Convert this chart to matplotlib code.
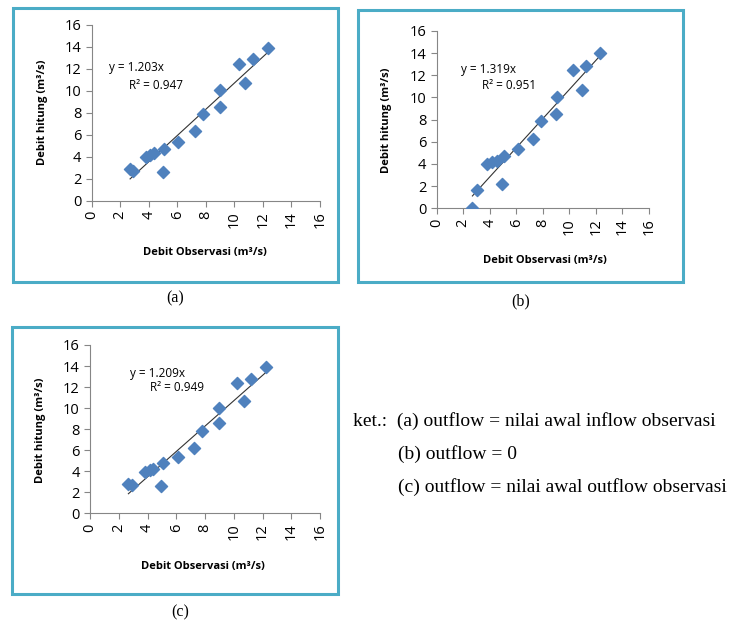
import numpy as np
import matplotlib.pyplot as plt
from matplotlib.patches import Rectangle

# observed discharge (m3/s) and computed discharge for the three outflow assumptions
obs_a = [2.69, 2.92, 3.81, 4.09, 4.37, 4.98, 5.07, 6.07, 7.24, 7.78, 9.0, 9.0, 10.3, 10.77, 11.28, 12.34]
calc_a = [2.86, 2.74, 4.01, 4.16, 4.32, 2.64, 4.71, 5.38, 6.35, 7.87, 8.57, 10.09, 12.49, 10.73, 12.89, 13.95]

obs_b = [2.69, 3.0, 3.82, 4.2, 4.52, 4.9, 5.08, 6.16, 7.29, 7.86, 8.97, 9.05, 10.3, 10.93, 11.23, 12.31]
calc_b = [0.0, 1.65, 3.97, 4.15, 4.27, 2.2, 4.75, 5.35, 6.23, 7.88, 8.48, 10.0, 12.45, 10.65, 12.87, 13.98]

obs_c = [2.67, 2.9, 3.83, 4.18, 4.41, 4.92, 5.1, 6.1, 7.24, 7.77, 9.0, 9.0, 10.2, 10.74, 11.23, 12.25]
calc_c = [2.76, 2.69, 3.9, 4.12, 4.21, 2.6, 4.75, 5.32, 6.18, 7.83, 8.56, 10.04, 12.36, 10.68, 12.8, 13.94]

eq_text = ['y = 1.203x', 'y = 1.319x', 'y = 1.209x']
r2_text = ['R² = 0.947', 'R² = 0.951', 'R² = 0.949']
captions = ['(a)', '(b)', '(c)']
ticks = [0, 2, 4, 6, 8, 10, 12, 14, 16]

W, H = 735, 623
fig = plt.figure(figsize=(W / 100, H / 100), dpi=100)


def fx(px):
    return px / W


def fy(py):
    return 1 - py / H


def panel(obs, calc, box, area, eq, r2, eq_pos, r2_pos, xl_pos, yl_pos):
    # light blue frame around each chart
    x0, y0, x1, y1 = box
    fig.patches.append(Rectangle((fx(x0), fy(y1)), fx(x1 - x0), fy(y0) - fy(y1),
                                 transform=fig.transFigure, fill=False,
                                 edgecolor='#4BACC6', linewidth=2.2))
    ax0, ay0, ax1, ay1 = area
    ax = fig.add_axes([fx(ax0), fy(ay1), fx(ax1 - ax0), fy(ay0) - fy(ay1)])
    ax.scatter(obs, calc, marker='D', s=38, color='#4F81BD', zorder=3)
    k, b = np.polyfit(obs, calc, 1)
    xs = np.array([min(obs), max(obs)])
    ax.plot(xs, k * xs + b, color='#333333', linewidth=0.8, zorder=2)
    ax.set_xlim(0, 16)
    ax.set_ylim(0, 16)
    ax.set_xticks(ticks)
    ax.set_yticks(ticks)
    ax.tick_params(axis='x', labelrotation=90, labelsize=10.5, color='#868686', length=4)
    ax.tick_params(axis='y', labelsize=10.5, color='#868686', length=4)
    for s in ['top', 'right']:
        ax.spines[s].set_visible(False)
    for s in ['left', 'bottom']:
        ax.spines[s].set_color('#868686')
    ax.text(eq_pos[0], eq_pos[1], eq, fontsize=8.5)
    ax.text(r2_pos[0], r2_pos[1], r2, fontsize=8.5)
    fig.text(fx(xl_pos[0]), fy(xl_pos[1]), 'Debit Observasi (m³/s)', fontsize=8,
             fontweight='bold', ha='center', va='center')
    fig.text(fx(yl_pos[0]), fy(yl_pos[1]), 'Debit hitung (m³/s)', fontsize=8,
             fontweight='bold', ha='center', va='center', rotation=90)


plt.rcParams['font.family'] = ['Open Sans', 'DejaVu Sans']

panel(obs_a, calc_a, (13, 8, 338, 282), (91.7, 25, 320, 200.7),
      eq_text[0], r2_text[0], (1.2, 11.8), (2.6, 10.2), (205, 252), (42, 112))
panel(obs_b, calc_b, (358, 10, 683, 282), (436.7, 31, 649, 208.3),
      eq_text[1], r2_text[1], (1.8, 12.2), (3.4, 10.8), (545, 260), (387, 120))
panel(obs_c, calc_c, (12, 327, 338, 594), (90, 345, 320, 513.3),
      eq_text[2], r2_text[2], (2.8, 13.0), (4.2, 11.6), (203, 566), (40, 430))

serif = ['Liberation Serif', 'DejaVu Serif']
fig.text(fx(175), fy(298), captions[0], fontsize=11.5, family=serif, ha='center', va='center')
fig.text(fx(521), fy(301), captions[1], fontsize=11.5, family=serif, ha='center', va='center')
fig.text(fx(180), fy(612), captions[2], fontsize=11.5, family=serif, ha='center', va='center')

notes = ['ket.:  (a) outflow = nilai awal inflow observasi',
         '(b) outflow = 0',
         '(c) outflow = nilai awal outflow observasi']
fig.text(fx(353), fy(421), notes[0], fontsize=14, family=serif, va='center')
fig.text(fx(398), fy(454), notes[1], fontsize=14, family=serif, va='center')
fig.text(fx(398), fy(487), notes[2], fontsize=14, family=serif, va='center')

fig.savefig('out.png', dpi=100)
